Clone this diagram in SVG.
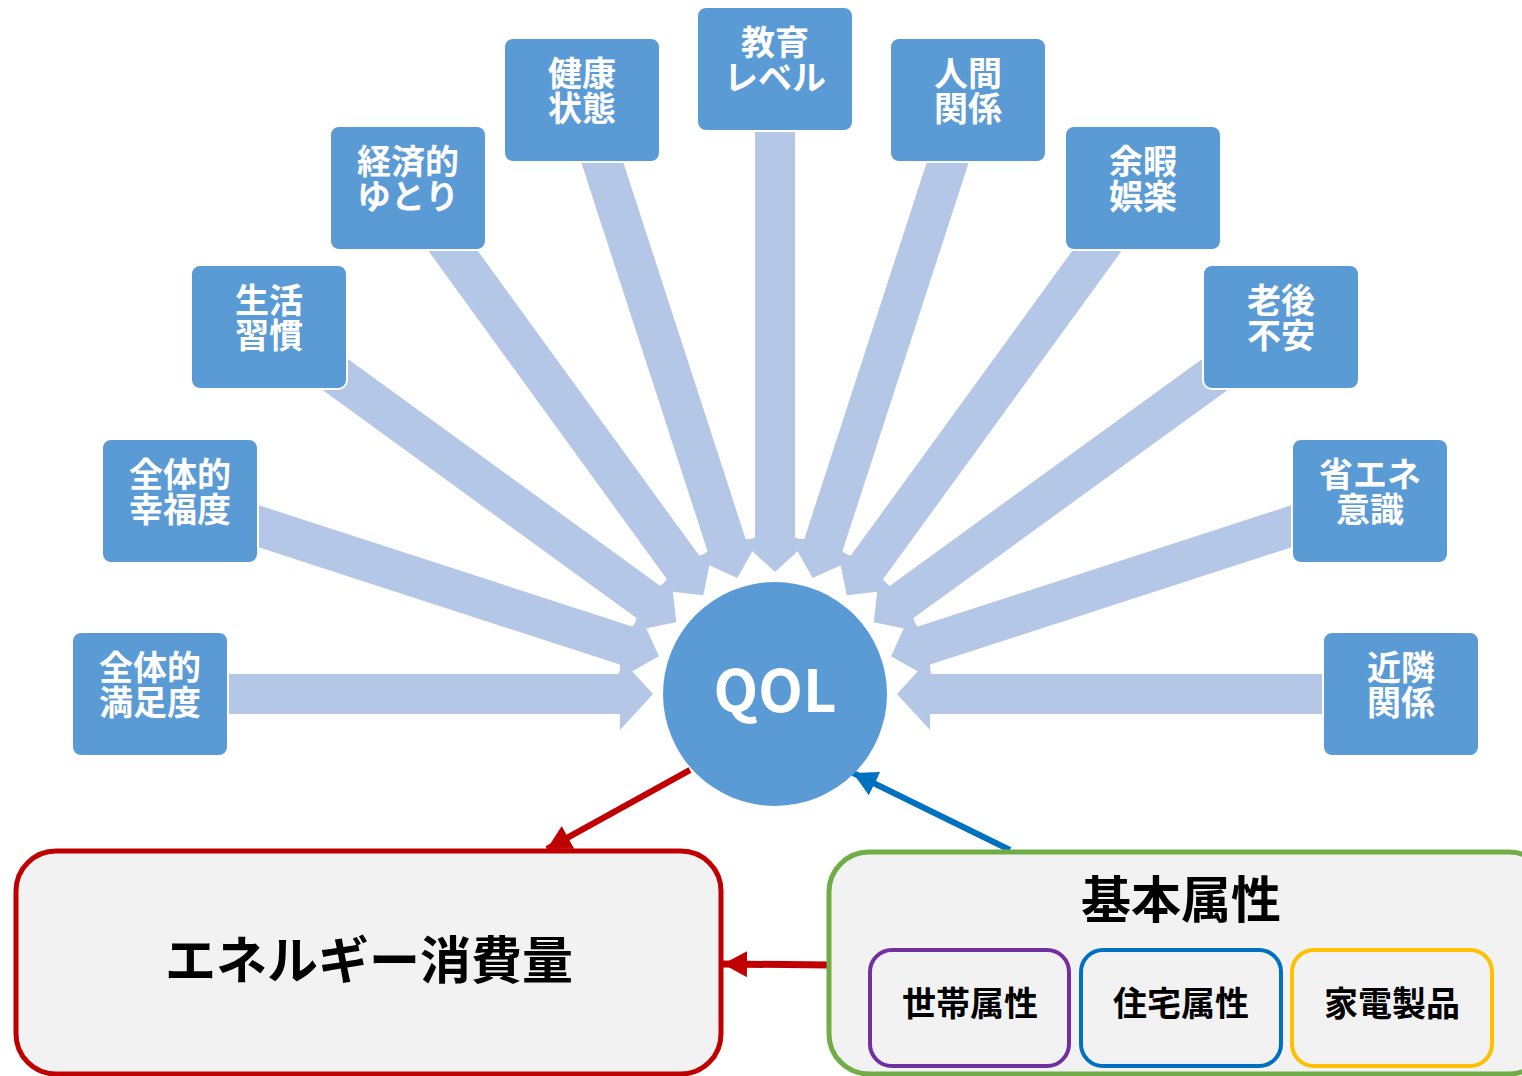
<svg xmlns="http://www.w3.org/2000/svg" width="1522" height="1076" viewBox="0 0 1522 1076">
<style>
.fat{fill:#B4C7E7}
.box rect{fill:#5B9BD5;stroke:#FFFFFF;stroke-width:2}
.bt{font-family:"Noto Sans CJK JP","Noto Sans",sans-serif;font-weight:bold;font-size:34px;fill:#FFFFFF;text-anchor:middle}
.big{font-family:"Noto Sans CJK JP","Noto Sans",sans-serif;font-weight:bold;fill:#000000;text-anchor:middle}
.sub{fill:#F2F2F2;stroke-width:4}
</style>
<defs>
<polygon id="fa" points="0,0 -33,-36 -33,-20 -503,-20 -503,20 -33,20 -33,36"/>
<marker id="mr" markerUnits="userSpaceOnUse" markerWidth="26" markerHeight="26" refX="24" refY="13" orient="auto"><path d="M0,0 L24,13 L0,26 Z" fill="#C00000"/></marker>
<marker id="mb" markerUnits="userSpaceOnUse" markerWidth="26" markerHeight="26" refX="24" refY="13" orient="auto"><path d="M0,0 L24,13 L0,26 Z" fill="#0070C0"/></marker>
</defs>
<g id="connectors">
<use href="#fa" class="fat" transform="translate(775 694) rotate(0) translate(-122 0)"/>
<use href="#fa" class="fat" transform="translate(775 694) rotate(18) translate(-122 0)"/>
<use href="#fa" class="fat" transform="translate(775 694) rotate(36) translate(-122 0)"/>
<use href="#fa" class="fat" transform="translate(775 694) rotate(54) translate(-122 0)"/>
<use href="#fa" class="fat" transform="translate(775 694) rotate(72) translate(-122 0)"/>
<use href="#fa" class="fat" transform="translate(775 694) rotate(90) translate(-122 0)"/>
<use href="#fa" class="fat" transform="translate(775 694) rotate(108) translate(-122 0)"/>
<use href="#fa" class="fat" transform="translate(775 694) rotate(126) translate(-122 0)"/>
<use href="#fa" class="fat" transform="translate(775 694) rotate(144) translate(-122 0)"/>
<use href="#fa" class="fat" transform="translate(775 694) rotate(162) translate(-122 0)"/>
<use href="#fa" class="fat" transform="translate(775 694) rotate(180) translate(-122 0)"/>
<line x1="690" y1="770" x2="547" y2="849" stroke="#C00000" stroke-width="6" marker-end="url(#mr)"/>
<line x1="1010" y1="850" x2="853" y2="773" stroke="#0070C0" stroke-width="6" marker-end="url(#mb)"/>
<line x1="829" y1="965" x2="723" y2="964" stroke="#C00000" stroke-width="7" marker-end="url(#mr)"/>
</g>
<g id="n-manzoku" class="box"><rect x="72" y="632" width="156" height="124" rx="9"/><text class="bt" x="150" y="680">全体的<tspan x="150" dy="35">満足度</tspan></text></g>
<g id="n-kofuku" class="box"><rect x="102" y="439" width="156" height="124" rx="9"/><text class="bt" x="180" y="487">全体的<tspan x="180" dy="35">幸福度</tspan></text></g>
<g id="n-seikatsu" class="box"><rect x="191" y="265" width="156" height="124" rx="9"/><text class="bt" x="269" y="313">生活<tspan x="269" dy="35">習慣</tspan></text></g>
<g id="n-keizai" class="box"><rect x="330" y="126" width="156" height="124" rx="9"/><text class="bt" x="408" y="174">経済的<tspan x="408" dy="35">ゆとり</tspan></text></g>
<g id="n-kenko" class="box"><rect x="504" y="38" width="156" height="124" rx="9"/><text class="bt" x="582" y="86">健康<tspan x="582" dy="35">状態</tspan></text></g>
<g id="n-kyoiku" class="box"><rect x="697" y="7" width="156" height="124" rx="9"/><text class="bt" x="775" y="55">教育<tspan x="775" dy="35">レベル</tspan></text></g>
<g id="n-ningen" class="box"><rect x="890" y="38" width="156" height="124" rx="9"/><text class="bt" x="968" y="86">人間<tspan x="968" dy="35">関係</tspan></text></g>
<g id="n-yoka" class="box"><rect x="1065" y="126" width="156" height="124" rx="9"/><text class="bt" x="1143" y="174">余暇<tspan x="1143" dy="35">娯楽</tspan></text></g>
<g id="n-rogo" class="box"><rect x="1203" y="265" width="156" height="124" rx="9"/><text class="bt" x="1281" y="313">老後<tspan x="1281" dy="35">不安</tspan></text></g>
<g id="n-shoene" class="box"><rect x="1292" y="439" width="156" height="124" rx="9"/><text class="bt" x="1370" y="487">省エネ<tspan x="1370" dy="35">意識</tspan></text></g>
<g id="n-kinrin" class="box"><rect x="1323" y="632" width="156" height="124" rx="9"/><text class="bt" x="1401" y="680">近隣<tspan x="1401" dy="35">関係</tspan></text></g>
<g id="n-qol"><circle cx="775" cy="694" r="112" fill="#5B9BD5"/><text x="775" y="712" font-family="'Noto Sans CJK JP','Noto Sans',sans-serif" font-weight="bold" font-size="58" fill="#FFFFFF" text-anchor="middle">QOL</text></g>
<g id="n-energy"><rect x="16" y="851" width="705" height="223" rx="40" fill="#F2F2F2" stroke="#C00000" stroke-width="5"/><text class="big" x="369" y="979" font-size="51">エネルギー消費量</text></g>
<g id="n-kihon"><rect x="829" y="852" width="720" height="222" rx="40" fill="#F2F2F2" stroke="#70AD47" stroke-width="5"/><text class="big" x="1181" y="918" font-size="50">基本属性</text></g>
<g id="n-setai"><rect class="sub" x="870" y="950" width="199" height="116" rx="22" stroke="#7030A0"/><text class="big" x="970" y="1016" font-size="34">世帯属性</text></g>
<g id="n-jutaku"><rect class="sub" x="1081" y="950" width="200" height="116" rx="22" stroke="#0070C0"/><text class="big" x="1181" y="1016" font-size="34">住宅属性</text></g>
<g id="n-kaden"><rect class="sub" x="1292" y="950" width="200" height="116" rx="22" stroke="#FFC000"/><text class="big" x="1392" y="1016" font-size="34">家電製品</text></g>
</svg>
